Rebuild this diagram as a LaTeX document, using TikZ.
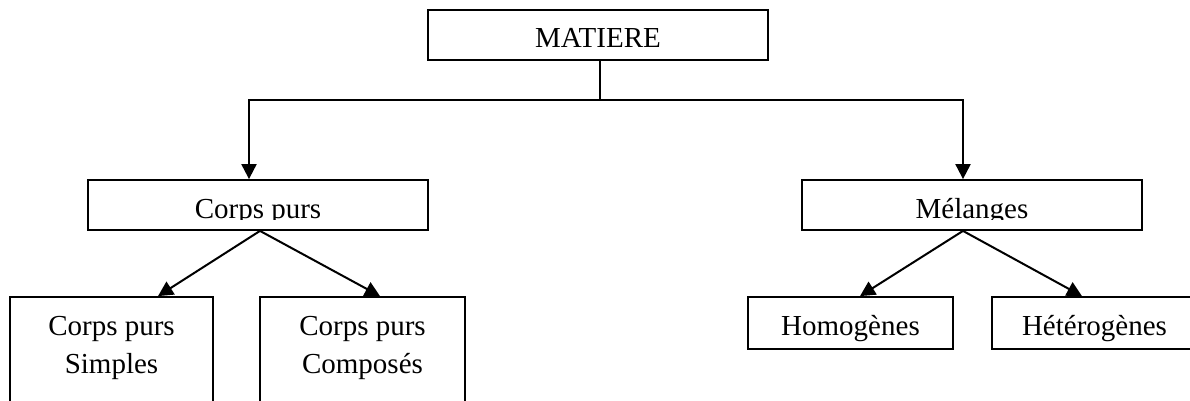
\documentclass[tikz,border=0pt]{standalone}
\usepackage{fontspec}
\setmainfont{Liberation Serif}
\usetikzlibrary{arrows.meta}
\begin{document}
\begin{tikzpicture}[x=1pt,y=-1pt,
  box/.style={draw, line width=1.8pt, inner sep=0pt},
  lbl/.style={anchor=base, inner sep=0pt, font=\fontsize{29}{38}\selectfont},
  conn/.style={line width=2pt},
  arr/.style={line width=2pt, -{Triangle[length=15pt,width=15pt]}}]
\useasboundingbox (0,0) rectangle (1190,400);
% boxes
\node[box, minimum width=340pt, minimum height=50pt] (matiere) at (598,35) {};
\node[box, minimum width=340pt, minimum height=50pt] (corps) at (258,205) {};
\node[box, minimum width=340pt, minimum height=50pt] (melanges) at (972,205) {};
\node[box, minimum width=203pt, minimum height=130pt] (simples) at (111.5,362) {};
\node[box, minimum width=205pt, minimum height=130pt] (composes) at (362.5,362) {};
\node[box, minimum width=205pt, minimum height=52pt] (homo) at (850.5,323) {};
\node[box, minimum width=205pt, minimum height=52pt] (hetero) at (1094.5,323) {};
% labels
\node[lbl] (tmatiere) at (598,47) {MATIERE};
\begin{scope}
  \clip (0,0) rectangle (1190,219);
  \node[lbl] (tcorps) at (258,218) {Corps purs};
  \node[lbl] (tmelanges) at (972,218) {Mélanges};
\end{scope}
\node[lbl, align=center] (tsimples) at (111.5,373) {Corps purs\\Simples};
\node[lbl, align=center] (tcomposes) at (362.5,373) {Corps purs\\Composés};
\node[lbl] (thomo) at (850.5,335) {Homogènes};
\node[lbl] (thetero) at (1094.5,335) {Hétérogènes};
% connectors
\coordinate (j) at (600,100);
\draw[conn] (matiere.south -| j) -- (j);
\draw[arr] (j) -| ([xshift=-9pt]corps.north);
\draw[arr] (j) -| ([xshift=-9pt]melanges.north);
\draw[arr] ([xshift=2pt]corps.south) -- ([xshift=46.5pt]simples.north);
\draw[arr] ([xshift=2pt]corps.south) -- ([xshift=17.5pt]composes.north);
\draw[arr] ([xshift=-9pt]melanges.south) -- ([xshift=9.5pt]homo.north);
\draw[arr] ([xshift=-9pt]melanges.south) -- ([xshift=-12.5pt]hetero.north);
\end{tikzpicture}
\end{document}
